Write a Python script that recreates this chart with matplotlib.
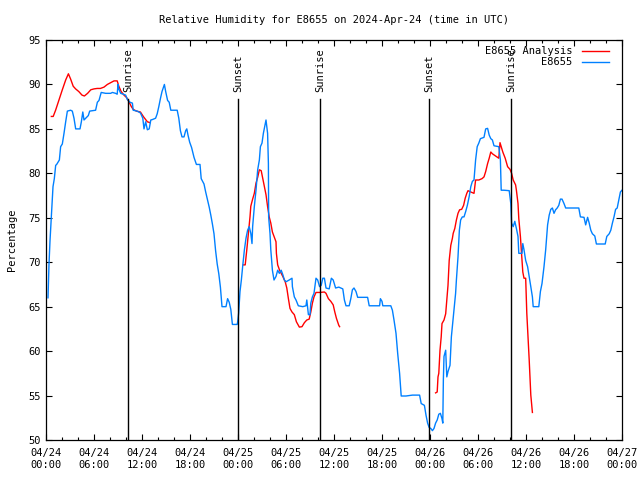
import matplotlib
matplotlib.use("Agg")
import matplotlib.pyplot as plt
import matplotlib.dates as mdates
import matplotlib.transforms as mtransforms
import numpy as np
import pandas as pd

start = pd.Timestamp("2024-04-24 00:00")

# station observations (hours since 04/24 00:00 UTC, relative humidity %)
obs_hours = [0.25, 0.375, 0.5, 0.67, 0.875, 1.04, 1.21, 1.33, 1.67, 1.83, 2.04, 2.25, 2.46, 2.67,
             3.08, 3.29, 3.5, 3.71, 4.25, 4.42, 4.6, 4.75, 4.96, 5.29, 5.46, 6.2, 6.42, 6.625, 6.9,
             7.46, 8.08, 8.3, 8.7, 8.9, 9.0, 9.1, 9.33, 9.67, 9.96, 10.17, 10.5, 10.8, 10.9, 11.4,
             11.8, 12.1, 12.25, 12.46, 12.67, 12.9, 13.1, 13.3, 13.7, 13.9, 14.1, 14.3, 14.5, 14.8,
             14.96, 15.2, 15.4, 15.6, 16.4, 16.6, 16.8, 17.0, 17.25, 17.46, 17.6, 17.75, 17.96, 18.2,
             18.5, 18.8, 19.25, 19.4, 19.75, 19.96, 20.2, 20.4, 20.6, 20.8, 21.0, 21.2, 21.4, 21.6,
             21.8, 22.0, 22.5, 22.7, 22.9, 23.1, 23.3, 23.9, 23.96, 24.08, 24.25, 24.42, 24.58, 24.8,
             25.0, 25.2, 25.4, 25.6, 25.75, 25.83, 26.04, 26.25, 26.46, 26.67, 26.8, 27.0, 27.17,
             27.33, 27.5, 27.6, 27.7, 27.8, 27.83, 28.0, 28.1, 28.3, 28.5, 28.75, 28.96, 29.17, 29.4,
             29.6, 29.8, 30.0, 30.4, 30.75, 30.8, 31.04, 31.25, 31.54, 32.1, 32.5, 32.6, 32.8, 33.0,
             33.1, 33.3, 33.5, 33.75, 33.96, 34.2, 34.4, 34.6, 34.8, 35.0, 35.4, 35.67, 35.9, 36.2,
             36.6, 37.1, 37.3, 37.5, 37.9, 38.1, 38.3, 38.5, 38.75, 38.96, 39.6, 40.2, 40.4, 41.25,
             41.7, 41.8, 42.0, 42.1, 43.1, 43.3, 43.5, 43.75, 43.96, 44.2, 44.4, 45.0, 45.8, 46.7,
             46.9, 47.3, 47.5, 47.7, 47.9, 48.1, 48.3, 48.5, 48.7, 48.9, 49.1, 49.3, 49.5, 49.6,
             49.67, 49.75, 49.96, 50.1, 50.25, 50.5, 50.67, 50.83, 51.0, 51.2, 51.3, 51.5, 51.67,
             51.83, 52.04, 52.25, 52.46, 52.67, 52.9, 53.1, 53.3, 53.5, 53.7, 53.9, 54.1, 54.3,
             54.75, 54.96, 55.2, 55.4, 55.6, 55.8, 56.0, 56.6, 56.8, 56.9, 57.25, 57.9, 58.1, 58.2,
             58.4, 58.6, 58.8, 59.0, 59.1, 59.5, 59.6, 59.75, 59.96, 60.2, 60.4, 60.6, 60.8, 60.9,
             61.2, 61.6, 61.8, 62.0, 62.25, 62.46, 62.7, 62.9, 63.1, 63.3, 63.5, 63.7, 63.9, 64.1,
             64.3, 64.5, 64.75, 64.96, 65.8, 66.6, 66.8, 67.25, 67.46, 67.7, 67.9, 68.1, 68.3, 68.6,
             68.8, 69.3, 69.9, 70.1, 70.4, 70.6, 70.8, 71.0, 71.2, 71.4, 71.6, 71.8, 72.0]
obs_rh = [66.0, 69.8, 72.4, 75.2, 78.5, 79.4, 80.9, 81.0, 81.5, 83.0, 83.3, 84.5, 85.8, 87.0,
          87.1, 87.0, 86.2, 85.0, 85.0, 85.8, 86.9, 86.0, 86.2, 86.5, 87.0, 87.1, 88.0, 88.2, 89.1,
          89.0, 89.0, 89.1, 89.0, 88.9, 90.0, 89.5, 89.0, 88.9, 88.8, 88.3, 88.0, 87.9, 87.1, 87.0,
          86.8, 86.2, 85.0, 85.8, 84.9, 85.0, 86.0, 86.05, 86.2, 86.7, 87.5, 88.4, 89.2, 90.0,
          89.2, 88.2, 88.0, 87.1, 87.1, 86.2, 84.8, 84.1, 84.1, 84.8, 85.0, 84.3, 83.5, 82.9,
          81.8, 81.0, 81.0, 79.4, 78.8, 77.9, 77.0, 76.2, 75.3, 74.3, 73.2, 71.3, 69.8, 68.7,
          67.2, 65.0, 65.0, 65.9, 65.5, 64.7, 63.0, 63.0, 63.3, 64.25, 66.7, 68.0, 69.5, 71.4,
          72.7, 73.6, 74.0, 73.25, 72.1, 74.0, 76.25, 78.1, 80.4, 81.5, 83.0, 83.4, 84.5,
          85.25, 86.0, 85.25, 84.5, 81.1, 75.1, 73.25, 71.4, 69.1, 68.0, 68.4, 69.1, 68.75, 69.1,
          68.6, 68.0, 67.8, 68.0, 68.2, 67.25, 66.1, 65.75, 65.1, 65.0, 65.1, 65.75, 64.1, 64.1,
          65.4, 66.1, 66.5, 68.2, 68.0, 67.25, 67.4, 68.2, 68.2, 67.1, 67.0, 68.2, 68.0, 67.1,
          67.2, 67.0, 65.75, 65.1, 65.1, 65.9, 66.9, 67.1, 66.7, 66.05, 66.05, 66.05, 65.1, 65.1,
          65.1, 65.9, 65.6, 65.1, 65.1, 64.6, 63.5, 62.0, 59.75, 57.5, 54.95, 54.95, 55.05, 55.05,
          54.1, 53.9, 52.8, 51.9, 51.4, 51.3, 51.05, 51.3, 51.9, 52.25, 52.9, 53.0, 52.4, 51.9,
          56.75, 59.4, 60.1, 57.1, 57.7, 58.4, 61.6, 63.1, 64.6, 66.5, 68.0, 70.6, 73.6,
          74.75, 75.1, 75.1, 75.7, 76.4, 77.4, 78.5, 79.1, 79.25, 81.5, 83.0, 83.4, 83.9,
          84.05, 85.0, 85.06, 84.3, 83.9, 83.75, 83.1, 83.0, 81.5, 78.1, 78.1, 78.05, 76.6, 74.4,
          74.0, 74.6, 73.8, 72.9, 71.0, 71.0, 72.1, 71.4, 70.2, 69.5, 68.4, 67.25, 66.1, 65.0,
          65.0, 65.0, 66.7, 67.6, 69.5, 71.4, 74.2, 75.3, 75.95, 76.1, 75.5, 75.9, 76.1, 76.4,
          77.1, 77.1, 76.6, 76.1, 76.1, 76.1, 75.1, 75.05, 74.2, 75.05, 74.4, 73.6, 73.2, 72.95,
          72.05, 72.05, 72.05, 72.9, 73.2, 73.6, 74.4, 75.1, 75.95, 76.1, 77.0, 77.9, 78.1]

# analysis (three separate runs, gaps as nan)
ana_hours = [0.67, 0.9, 1.2, 1.6, 2.04, 2.46, 2.8, 3.08, 3.4, 3.7, 4.1, 4.5, 4.8, 5.2, 5.6, 6.0,
             6.4, 6.8, 7.25, 7.67, 8.08, 8.5, 8.9, 9.1, 9.4, 9.75, 10.1, 10.4, 10.67, 10.9, 11.3,
             11.8, 12.2, 12.5, 12.67, 13.0, 13.1,
             24.67, 24.9, 25.1, 25.3, 25.5, 25.6, 25.83, 26.04, 26.25, 26.46, 26.67, 26.9, 27.1,
             27.3, 27.5, 27.7, 27.9, 28.1, 28.3, 28.5, 28.75, 28.8, 28.96, 29.2, 29.6, 29.9, 30.1,
             30.3, 30.5, 30.75, 31.04, 31.3, 31.67, 32.0, 32.3, 32.6, 32.9, 33.1, 33.3, 33.5,
             33.75, 34.2, 34.8, 35.0, 35.3, 35.6, 35.9, 36.1, 36.3, 36.6, 36.7, 36.8,
             48.7, 48.9, 49.0, 49.1, 49.25, 49.4, 49.5, 49.75, 49.96, 50.1, 50.25, 50.4, 50.6,
             50.8, 50.9, 51.1, 51.3, 51.5, 51.7, 51.96, 52.2, 52.4, 52.6, 52.75, 53.1, 53.5, 53.7,
             54.1, 54.5, 54.75, 54.96, 55.2, 55.4, 55.6, 55.8, 56.2, 56.6, 56.75, 56.9, 57.1,
             57.4, 57.7, 58.0, 58.2, 58.4, 58.7, 58.8, 59.0, 59.1, 59.3, 59.5, 59.6, 59.75,
             59.96, 60.1, 60.25, 60.4, 60.6, 60.8]
ana_rh = [86.4, 86.4, 87.1, 88.2, 89.4, 90.5, 91.2, 90.6, 89.8, 89.5, 89.2, 88.8, 88.7, 89.0,
          89.4, 89.5, 89.55, 89.55, 89.7, 90.0, 90.2, 90.4, 90.4, 89.8, 89.2, 88.8, 88.5, 88.0,
          87.5, 87.2, 87.0, 86.9, 86.35, 86.0, 85.8, 85.7, np.nan,
          69.7, 69.7, 71.4, 73.25, 75.1, 76.3, 77.1, 77.75, 78.9, 79.55, 80.4, 80.3, 79.4,
          78.5, 77.6, 76.25, 75.1, 74.4, 73.4, 72.9, 72.3, 71.0, 69.7, 69.1, 68.4, 67.8, 67.1,
          65.9, 64.8, 64.4, 64.1, 63.3, 62.7, 62.75, 63.2, 63.5, 63.6, 64.4, 65.4, 66.1,
          66.6, 66.6, 66.65, 66.5, 65.9, 65.6, 65.2, 64.4, 63.7, 62.9, 62.75, np.nan,
          55.3, 55.4, 57.1, 57.5, 60.1, 61.6, 63.1, 63.5, 64.2, 65.75, 67.4, 70.2, 71.9,
          72.7, 73.25, 73.8, 74.75, 75.5, 75.9, 75.95, 76.4, 77.2, 77.75, 78.05, 77.9, 77.75, 79.25,
          79.25, 79.4, 79.6, 80.2, 81.1, 81.7, 82.4, 82.2, 81.95, 81.7, 83.45, 83.0, 82.4,
          81.7, 80.75, 80.45, 80.0, 79.25, 78.7, 78.1, 76.6, 74.9, 72.9, 70.2, 68.9, 68.2,
          68.2, 64.25, 61.6, 59.0, 55.06, 53.1]

sun_times = ["2024-04-24 10:15", "2024-04-25 00:00", "2024-04-25 10:15",
             "2024-04-25 23:54", "2024-04-26 10:08"]
sun_labels = ["Sunrise", "Sunset", "Sunrise", "Sunset", "Sunrise"]

obs_t = start + pd.to_timedelta(obs_hours, unit="h")
ana_t = start + pd.to_timedelta(ana_hours, unit="h")

plt.rcParams["font.family"] = "DejaVu Sans Mono"
plt.rcParams["font.size"] = 7

fig = plt.figure(figsize=(6.4, 4.8), dpi=100)
ax = fig.add_axes([46 / 640, 40 / 480, 576 / 640, 400 / 480])

ax.plot(ana_t, ana_rh, color="#ff0000", lw=1.0, label="E8655 Analysis")
ax.plot(obs_t, obs_rh, color="#0080ff", lw=1.0, label="E8655")

trans = mtransforms.blended_transform_factory(ax.transData, ax.transAxes)
for t, lab in zip(sun_times, sun_labels):
    tt = pd.Timestamp(t)
    ax.plot([tt, tt], [0, 0.853], color="black", lw=1.0, transform=trans)
    ax.text(tt, 0.87, lab, rotation=90, ha="center", va="bottom", transform=trans,
            fontsize=7.5)

ax.set_xlim(start, start + pd.Timedelta(hours=72))
ax.set_ylim(50, 95)
ax.set_yticks(np.arange(50, 96, 5))
ax.xaxis.set_major_locator(mdates.HourLocator(byhour=[0, 6, 12, 18]))
ax.xaxis.set_minor_locator(mdates.HourLocator(byhour=range(0, 24, 2)))
ax.xaxis.set_major_formatter(mdates.DateFormatter("%m/%d\n%H:%M"))
ax.tick_params(which="both", direction="in", top=True, right=True, labelsize=7.5)
ax.tick_params(which="major", length=4.5, width=0.8, pad=6)
ax.tick_params(which="minor", length=2.5, width=0.8)
ax.tick_params(axis="y", pad=4)
for s in ax.spines.values():
    s.set_linewidth(0.9)

ax.set_ylabel("Percentage", fontsize=7.5, labelpad=8)
ax.set_title("Relative Humidity for E8655 on 2024-Apr-24 (time in UTC)", fontsize=7.5, pad=12)

ax.legend(loc="upper right", frameon=False, markerfirst=False, fontsize=7.5,
          handlelength=2.6, handletextpad=0.9, labelspacing=0.1,
          borderaxespad=0.2, bbox_to_anchor=(0.988, 1.0))

fig.savefig("out.png", dpi=100)
